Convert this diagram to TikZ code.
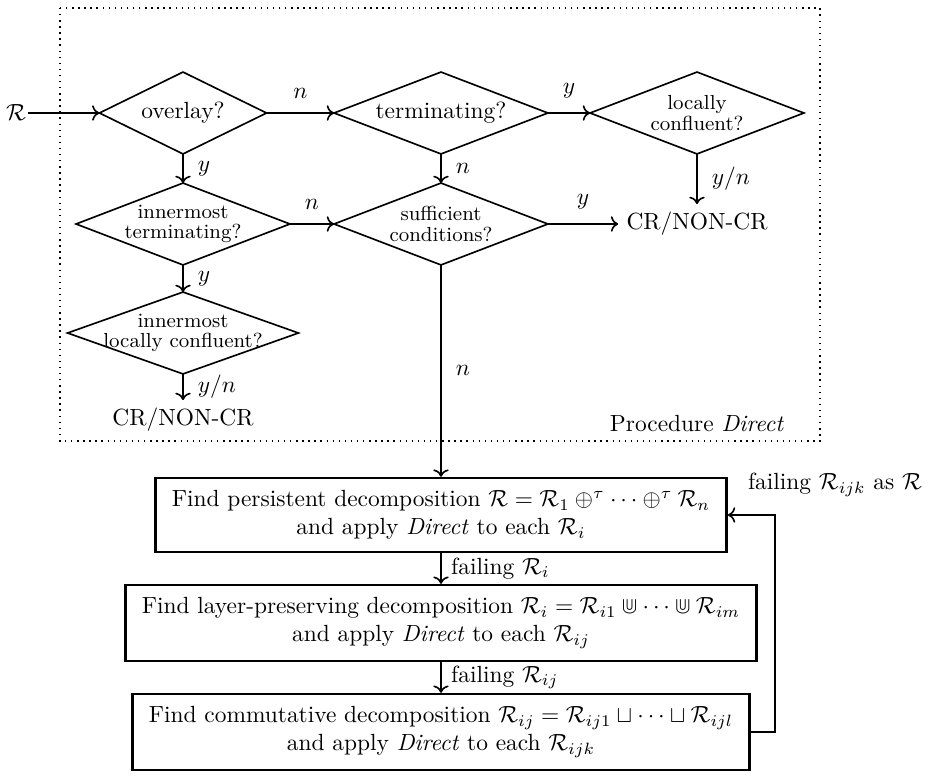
\documentclass[tikz,border=0pt]{standalone}
\usepackage{amsmath,amssymb}
\usetikzlibrary{positioning,arrows.meta,calc}
\tikzset{
  ask/.style={rectangle, minimum width=#1, minimum height=34.6pt, inner sep=0pt, align=center},
  ask/.default=91pt,
  smallq/.style={font=\fontsize{8.7}{8.7}\selectfont},
  stepbox/.style={rectangle, draw, line width=1.1pt, align=center, inner xsep=7pt, inner ysep=5.3pt},
  ar/.style={->, line width=0.7pt},
  lbl/.style={inner sep=1pt},
}

\begin{document}
\begin{tikzpicture}[x=0.4274pt, y=-0.4274pt]
  \useasboundingbox (0,0) rectangle (929,776);

  % procedure Direct
  \draw[dotted, line width=0.6pt] (60,8) rectangle (820,441);
  \node[inner sep=0.5pt] (r) at (16,113) {$\mathcal{R}$};
  \node[ask=71pt] (ov) at (183,113) {overlay?};
  \node[ask] (te) at (441,113) {terminating?};
  \node[ask, smallq] (lc) at (697,113) {locally\\confluent?};
  \node[ask, smallq] (it) at (183,224) {innermost\\terminating?};
  \node[ask, smallq] (sc) at (441,224) {sufficient\\conditions?};
  \node (cr1) at (697,224) {CR/NON-CR};
  \node[ask=98.3pt, smallq] (il) at (183,333) {innermost\\locally confluent?};
  \node (cr2) at (183,420) {CR/NON-CR};
  \node (proc) at (697,424) {Procedure \textit{Direct}};

  \foreach \d in {ov,te,lc,it,sc,il}
    \draw[line width=0.7pt] (\d.west) -- (\d.north) -- (\d.east) -- (\d.south) -- cycle;

  \draw[ar] (r) -- (ov.west);
  \draw[ar] (ov.east) -- node[lbl, above=5pt] (l1) {$n$} (te.west);
  \draw[ar] (te.east) -- node[lbl, above=5pt] (l2) {$y$} (lc.west);
  \draw[ar] (ov.south) -- node[lbl, right=5pt] (l3) {$y$} (it.north);
  \draw[ar] (te.south) -- node[lbl, right=5pt] (l4) {$n$} (sc.north);
  \draw[ar] (it.east) -- node[lbl, above=5pt] (l5) {$n$} (sc.west);
  \draw[ar] (sc.east) -- node[lbl, above=5pt] (l6) {$y$} (cr1);
  \draw[ar] (lc.south) -- node[lbl, right=5pt] (l7) {$y/n$} (cr1);
  \draw[ar] (it.south) -- node[lbl, right=5pt] (l8) {$y$} (il.north);
  \draw[ar] (il.south) -- node[lbl, right=5pt] (l9) {$y/n$} (cr2);

  % decompositions
  \node[stepbox] (b1) at (441,515) {Find persistent decomposition $\mathcal{R} = \mathcal{R}_1 \oplus^{\tau} \cdots \oplus^{\tau} \mathcal{R}_n$\\and apply \textit{Direct} to each $\mathcal{R}_i$};
  \node[stepbox] (b2) at (441,623) {Find layer-preserving decomposition $\mathcal{R}_i = \mathcal{R}_{i1} \Cup \cdots \Cup \mathcal{R}_{im}$\\and apply \textit{Direct} to each $\mathcal{R}_{ij}$};
  \node[stepbox] (b3) at (441,732) {Find commutative decomposition $\mathcal{R}_{ij} = \mathcal{R}_{ij1} \sqcup \cdots \sqcup \mathcal{R}_{ijl}$\\and apply \textit{Direct} to each $\mathcal{R}_{ijk}$};

  \draw[ar] (sc.south) -- node[lbl, right=5pt] (l10) {$n$} (b1.north);
  \draw[ar] (b1) -- node[lbl, right=3pt] (l11) {failing $\mathcal{R}_i$} (b2);
  \draw[ar] (b2) -- node[lbl, right=3pt] (l12) {failing $\mathcal{R}_{ij}$} (b3);
  \coordinate (back) at (775,515);
  \draw[ar] (b3.east) -| (back) -- (b1.east);
  \node (l13) at (835,485) {failing $\mathcal{R}_{ijk}$ as $\mathcal{R}$};
\end{tikzpicture}
\end{document}
